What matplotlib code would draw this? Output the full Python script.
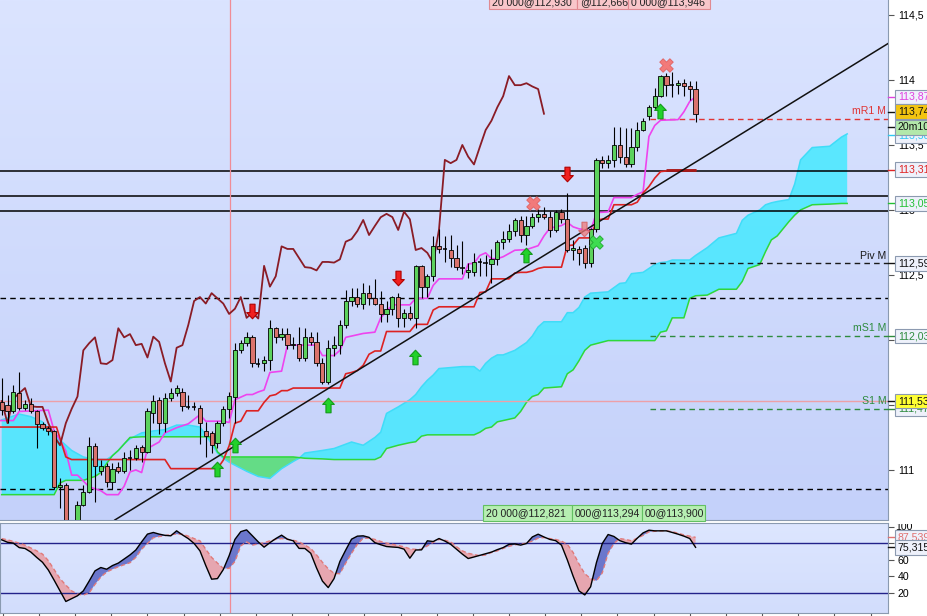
import matplotlib
matplotlib.use("Agg")
import matplotlib.pyplot as plt
import numpy as np
from matplotlib.colors import LinearSegmentedColormap
from matplotlib.patches import Rectangle
from matplotlib.path import Path
from matplotlib.ticker import FixedLocator, FuncFormatter, NullLocator
from matplotlib.transforms import blended_transform_factory

plt.rcParams["font.family"] = ["Liberation Sans", "DejaVu Sans"]

W, H = 927, 616
FS = 7.6

# 20 minute candles, index 0..119
opens = [111.52, 111.50, 111.45, 111.59, 111.475, 111.51, 111.45, 111.35, 111.32, 111.30,
         110.87, 110.885, 110.60, 110.55, 110.73, 110.83, 111.185, 110.99, 111.03, 110.91,
         111.02, 110.99, 111.09, 111.09, 111.18, 111.14, 111.44, 111.54, 111.36, 111.555,
         111.59, 111.60, 111.485, 111.485, 111.48, 111.30, 111.285, 111.21, 111.36, 111.47,
         111.565, 111.92, 111.98, 112.02, 111.82, 111.82, 111.845, 112.09, 112.02, 112.045,
         111.96, 111.97, 111.865, 112.025, 111.985, 111.82, 111.68, 111.94, 111.96, 112.115,
         112.30, 112.33, 112.28, 112.36, 112.32, 112.28, 112.20, 112.24, 112.33, 112.17,
         112.21, 112.165, 112.57, 112.41, 112.49, 112.72, 112.70, 112.69, 112.63, 112.56,
         112.52, 112.525, 112.60, 112.60, 112.585, 112.62, 112.756, 112.776, 112.838, 112.923,
         112.807, 112.877, 112.944, 112.97, 112.944, 112.846, 112.987, 112.928, 112.692, 112.70,
         112.708, 112.59, 112.85, 113.385, 113.36, 113.385, 113.50, 113.41, 113.35, 113.485,
         113.615, 113.72, 113.79, 113.875, 114.03, 113.96, 113.96, 113.975, 113.95, 113.93]
highs = [111.71, 111.58, 111.65, 111.75, 111.54, 111.55, 111.46, 111.37, 111.34, 111.31,
         110.94, 110.90, 110.61, 110.76, 110.885, 111.25, 111.21, 111.08, 111.05, 111.05,
         111.06, 111.14, 111.155, 111.19, 111.19, 111.48, 111.58, 111.56, 111.59, 111.63,
         111.65, 111.63, 111.58, 111.52, 111.50, 111.37, 111.30, 111.38, 111.49, 111.60,
         111.975, 112.00, 112.06, 112.04, 111.86, 111.88, 112.155, 112.10, 112.09, 112.09,
         112.02, 112.10, 112.09, 112.06, 112.06, 111.86, 112.00, 112.03, 112.155, 112.385,
         112.40, 112.40, 112.44, 112.42, 112.47, 112.38, 112.30, 112.34, 112.36, 112.24,
         112.26, 112.58, 112.58, 112.51, 112.80, 112.85, 112.80, 112.81, 112.73, 112.76,
         112.59, 112.67, 112.63, 112.65, 112.70, 112.77, 112.84, 112.89, 112.94, 112.95,
         112.95, 112.975, 113.01, 113.025, 112.99, 113.00, 113.01, 113.13, 112.77, 112.72,
         112.73, 112.86, 113.40, 113.415, 113.42, 113.64, 113.64, 113.63, 113.63, 113.68,
         113.71, 113.81, 113.94, 114.04, 114.05, 114.06, 114.00, 114.01, 113.99, 113.99]
lows = [111.42, 111.36, 111.44, 111.46, 111.46, 111.44, 111.17, 111.31, 111.27, 110.85,
        110.71, 110.54, 110.37, 110.50, 110.72, 110.82, 110.75, 110.96, 110.87, 110.85,
        110.98, 110.98, 111.00, 111.08, 111.06, 111.13, 111.36, 111.28, 111.29, 111.53,
        111.57, 111.45, 111.47, 111.46, 111.20, 111.10, 111.13, 111.17, 111.34, 111.40,
        111.36, 111.90, 111.95, 111.795, 111.795, 111.76, 111.77, 111.98, 112.00, 111.93,
        111.93, 111.84, 111.84, 111.96, 111.80, 111.66, 111.66, 111.88, 111.89, 112.09,
        112.26, 112.25, 112.24, 112.27, 112.27, 112.14, 112.14, 112.19, 112.10, 112.10,
        112.15, 112.09, 112.32, 112.33, 112.45, 112.67, 112.60, 112.56, 112.54, 112.51,
        112.48, 112.49, 112.49, 112.49, 112.44, 112.58, 112.70, 112.75, 112.80, 112.75,
        112.73, 112.86, 112.91, 112.93, 112.795, 112.83, 112.90, 112.68, 112.615, 112.58,
        112.55, 112.56, 112.83, 113.32, 113.32, 113.33, 113.36, 113.33, 113.33, 113.45,
        113.61, 113.69, 113.77, 113.87, 113.88, 113.87, 113.89, 113.88, 113.845, 113.68]
closes = [111.46, 111.45, 111.60, 111.475, 111.51, 111.45, 111.35, 111.32, 111.30, 110.87,
          110.885, 110.60, 110.52, 110.73, 110.83, 111.185, 111.03, 111.03, 110.91, 111.01,
          110.99, 111.09, 111.09, 111.17, 111.14, 111.45, 111.53, 111.36, 111.55, 111.59,
          111.63, 111.49, 111.485, 111.485, 111.36, 111.26, 111.19, 111.36, 111.47, 111.565,
          111.92, 111.975, 112.02, 111.82, 111.815, 111.845, 112.09, 112.02, 112.045, 111.96,
          111.97, 111.865, 112.025, 111.985, 111.82, 111.68, 111.94, 111.96, 112.115, 112.30,
          112.33, 112.28, 112.36, 112.32, 112.28, 112.20, 112.24, 112.33, 112.17, 112.21,
          112.165, 112.57, 112.41, 112.49, 112.72, 112.70, 112.70, 112.63, 112.56, 112.555,
          112.535, 112.60, 112.60, 112.595, 112.62, 112.756, 112.776, 112.838, 112.923, 112.807,
          112.877, 112.944, 112.97, 112.945, 112.846, 112.987, 112.928, 112.692, 112.707, 112.67,
          112.592, 112.85, 113.385, 113.36, 113.385, 113.50, 113.41, 113.35, 113.485, 113.615,
          113.687, 113.79, 113.875, 114.03, 113.96, 113.96, 113.975, 113.95, 113.93, 113.74]

CHIKOU_SHIFT = 26

# tenkan-sen (magenta), kijun-sen (red): points
tenkan_x = [-0.3, 2, 3, 8, 9, 10, 11, 12, 13, 14, 15, 16, 17, 18, 20, 21, 22, 23, 24, 25,
            27, 28, 29, 30, 32, 33, 34, 35, 38, 39, 40, 41, 42, 43, 44, 45, 46, 48, 49, 54,
            55, 57, 58, 59, 60, 62, 64, 65, 66, 67, 70, 71, 73, 74, 75, 79, 80, 81, 82, 83,
            84, 85, 86, 87, 88, 90, 91, 92, 93, 94, 96, 97, 98, 99, 101, 102, 104, 105, 108, 109,
            110, 111, 112, 113, 116, 117, 118, 119]
tenkan = [111.38, 111.38, 111.45, 111.46, 111.30, 111.23, 111.145, 110.96, 110.96, 110.915,
          110.87, 110.855, 110.84, 110.81, 110.81, 110.875, 110.985, 111.0, 110.98, 111.165,
          111.215, 111.285, 111.305, 111.325, 111.355, 111.39, 111.425, 111.375, 111.375, 111.365,
          111.54, 111.56, 111.58, 111.58, 111.60, 111.615, 111.75, 111.76, 111.96, 111.96,
          111.88, 111.88, 111.92, 112.02, 112.03, 112.05, 112.06, 112.17, 112.22, 112.27,
          112.27, 112.32, 112.32, 112.42, 112.47, 112.47, 112.585, 112.59, 112.65, 112.67,
          112.625, 112.625, 112.64, 112.665, 112.69, 112.695, 112.71, 112.725, 112.80, 112.86,
          112.88, 112.905, 112.87, 112.855, 112.84, 112.98, 112.985, 113.095, 113.095, 113.12,
          113.14, 113.565, 113.65, 113.69, 113.695, 113.755, 113.835, 113.87]
kijun_x = [-0.3, 9.4, 11, 12, 28, 29, 37, 38, 39, 40, 41, 42, 44, 45, 46, 47, 48, 49, 50, 58,
           59, 60, 61, 62, 63, 64, 65, 66, 70, 71, 73, 74, 75, 81, 82, 83, 84, 87, 88, 89,
           90, 91, 92, 93, 96, 97, 98, 99, 101, 102, 103, 104, 105, 108, 109, 110, 111, 112, 113, 114,
           115, 119]
kijun = [111.33, 111.33, 111.10, 111.08, 111.08, 111.01, 111.01, 111.075, 111.185, 111.36,
         111.375, 111.455, 111.455, 111.52, 111.57, 111.58, 111.61, 111.61, 111.63, 111.63,
         111.74, 111.75, 111.765, 111.805, 111.89, 111.915, 111.915, 112.065, 112.065, 112.12,
         112.12, 112.23, 112.255, 112.255, 112.365, 112.37, 112.47, 112.47, 112.515, 112.52,
         112.52, 112.53, 112.55, 112.56, 112.56, 112.725, 112.73, 112.785, 112.785, 112.92,
         112.93, 112.93, 113.04, 113.04, 113.06, 113.13, 113.18, 113.245, 113.295, 113.30,
         113.305, 113.305]
kijun_flat = (114, 119, 113.31)

# cloud, senkou span A (cyan) and B (green), 26 bars ahead
cloud_x = [0, 3, 5, 7, 9, 10, 11, 12, 14, 16, 17, 18, 19, 20, 21, 22, 24, 26, 28, 30,
           32, 34, 35, 36, 37, 38, 39, 42, 44, 46, 48, 50, 51, 52, 55, 57, 60, 62, 64, 65,
           66, 68, 70, 71, 72, 73, 74, 75, 79, 81, 82, 83, 84, 85, 86, 88, 89, 90, 91, 92,
           93, 96, 97, 98, 99, 100, 101, 104, 106, 107, 108, 110, 112, 113, 114, 115, 117, 118, 119, 121,
           123, 126, 127, 128, 130, 131, 132, 133, 135, 136, 137, 139, 142, 144, 145]
span_a = [111.385, 111.43, 111.41, 111.37, 111.27, 111.23, 111.19, 111.15, 111.10, 111.08,
          111.08, 111.08, 111.11, 111.15, 111.20, 111.24, 111.285, 111.30, 111.31, 111.345,
          111.345, 111.33, 111.27, 111.20, 111.13, 111.09, 111.06, 110.99, 110.95, 110.935,
          111.01, 111.065, 111.09, 111.13, 111.15, 111.165, 111.215, 111.19, 111.25, 111.29,
          111.435, 111.485, 111.54, 111.58, 111.64, 111.69, 111.73, 111.78, 111.795, 111.795,
          111.76, 111.82, 111.86, 111.885, 111.885, 111.92, 111.95, 111.98, 112.03, 112.10,
          112.14, 112.14, 112.21, 112.21, 112.25, 112.33, 112.36, 112.37, 112.435, 112.44,
          112.51, 112.52, 112.58, 112.595, 112.60, 112.615, 112.615, 112.615, 112.65, 112.71,
          112.785, 112.82, 112.92, 112.96, 113.0, 113.04, 113.055, 113.065, 113.08, 113.20,
          113.385, 113.48, 113.49, 113.56, 113.585]
span_b = [110.81, 110.81, 110.81, 110.81, 110.81, 110.90, 110.92, 110.92, 110.92, 110.95,
          110.98, 111.05, 111.11, 111.15, 111.20, 111.25, 111.255, 111.255, 111.255, 111.255,
          111.255, 111.255, 111.255, 111.255, 111.14, 111.10, 111.10, 111.10, 111.10, 111.10,
          111.10, 111.10, 111.095, 111.09, 111.085, 111.08, 111.08, 111.08, 111.08, 111.10,
          111.165, 111.19, 111.21, 111.217, 111.26, 111.27, 111.27, 111.27, 111.27, 111.27,
          111.29, 111.32, 111.33, 111.37, 111.38, 111.40, 111.45, 111.52, 111.565, 111.58,
          111.63, 111.64, 111.74, 111.77, 111.84, 111.92, 111.96, 111.995, 111.995, 111.995,
          111.995, 111.995, 111.995, 112.06, 112.07, 112.17, 112.17, 112.32, 112.34, 112.345,
          112.39, 112.39, 112.45, 112.55, 112.58, 112.68, 112.77, 112.80, 112.91, 112.96,
          113.0, 113.04, 113.045, 113.05, 113.05]

# trend line anchors (bar index, price)
trend_x = [19.4, 152.0]
trend_y = [110.615, 114.28]

solid_levels = [113.30, 113.11, 112.99]
dashed_levels = [112.32, 110.85]
pivot_start = 111.2
pivot_levels = [113.70, 112.59, 112.03, 111.47]
pivot_names = ["mR1 M", "Piv M", "mS1 M", "S1 M"]
pivot_colors = ["#e03434", "#1a1a1a", "#2e8b3e", "#2e8b3e"]
cross_x = 39.2
cross_y = 111.53

# signals
buy_x = [36.9, 40.0, 56.0, 70.9, 90.0, 112.9]
buy_y = [111.01, 111.19, 111.50, 111.87, 112.65, 113.76]
sell_x = [43.0, 68.0, 96.9]
sell_y = [112.22, 112.48, 113.28]
ghost_sell_x = [99.9]
ghost_sell_y = [112.855]
exit_red_x = [91.1, 114.0]
exit_red_y = [113.055, 114.115]
exit_green_x = [102.0]
exit_green_y = [112.75]

# stochastic %K and %D, one value per candle
stoch_k = [84.5, 81.5, 80.4, 75, 73.9, 69.5, 63, 57, 47.5, 35,
           22, 9, 12.5, 16, 22, 34, 46.5, 50.6, 48.5, 53,
           56, 61, 66, 72, 82, 91.5, 93.5, 91.5, 90, 89.4,
           95.5, 90.5, 86, 80, 71, 53, 36.3, 37, 48, 65,
           85, 94.5, 96.7, 89.4, 82, 75.5, 81, 86, 90.2, 85.3,
           83.3, 74, 73.9, 68, 50, 34, 26, 37, 58, 72,
           85.3, 89, 89.4, 87.5, 81, 78.5, 76.3, 75.7, 75.2, 73.1,
           62, 72, 72.2, 83.3, 82.4, 86.1, 83, 79, 73, 67,
           61.6, 63.5, 65.5, 67.5, 69.5, 72.5, 75, 79, 79.5, 78,
           80, 88, 91.4, 88, 85, 83.5, 78, 60, 40, 22,
           17, 27, 56.7, 80, 91, 88.6, 83.5, 81, 79.2, 86.5,
           93, 96.3, 95.5, 95.5, 95.5, 93.5, 91.4, 89, 86.1, 75.315]
stoch_d = [86, 84.5, 82.5, 80.5, 78, 74.5, 71, 67, 59, 48,
           37, 29, 22, 18, 16.8, 19.5, 30, 39, 45, 48.5,
           51.5, 54, 56.5, 63, 73, 80, 87, 88.5, 89.6, 91,
           91.4, 91.4, 89, 86, 83.3, 73, 63, 56, 49.5, 49.5,
           58, 77, 82, 78, 79.5, 81, 83.3, 85, 86, 85,
           84, 82, 78, 74, 66, 57, 49, 43.5, 43, 56,
           68, 79, 86.5, 86.5, 85, 82.5, 80.5, 79, 77.5, 76,
           73.5, 72.8, 73, 77, 81.5, 85, 84, 82, 76, 71,
           68, 66.5, 65, 66, 69, 71, 74, 76.5, 78.5, 79,
           80.5, 83, 86.5, 87.3, 86, 85, 83, 79, 69, 55,
           43, 37, 34.3, 44, 68, 80, 86, 85, 83.3, 86.5,
           90, 94.3, 95, 95.5, 95.5, 94.5, 92.6, 90.5, 89, 87.539]
stoch_levels = [80, 20]
stoch_ticks = [20, 40, 60, 80, 100]


def comma(v, _pos=None):
    return f"{v:g}".replace(".", ",")


def gradient_bg(ax, top, bottom):
    cmap = LinearSegmentedColormap.from_list("bg", [bottom, top])
    grad = np.linspace(0, 1, 256).reshape(-1, 1)
    ax.imshow(grad, extent=(0, 1, 0, 1), transform=ax.transAxes, origin="lower",
              cmap=cmap, aspect="auto", zorder=-10)


def flag(ax, y, text, color, face, edge="#8c9ab0", z=7):
    tr = blended_transform_factory(ax.transAxes, ax.transData)
    ax.plot([1.0, 1.008], [y, y], color=color, lw=1, transform=tr, clip_on=False, zorder=z)
    ax.text(1.011, y, text, transform=tr, ha="left", va="center", fontsize=FS, color=color,
            clip_on=False, zorder=z, bbox=dict(boxstyle="square,pad=0.22", fc=face, ec=edge, lw=0.8))


def order_box(fig, x0, x1, y0, y1, ty, text, fc, ec):
    rect = Rectangle((x0 / W, 1 - y1 / H), (x1 - x0) / W, (y1 - y0) / H,
                     transform=fig.transFigure, fc=fc, ec=ec, lw=0.8, zorder=8)
    fig.add_artist(rect)
    t = fig.text((x0 + 3) / W, 1 - ty / H, text, ha="left", va="center", fontsize=FS,
                 color="#222222", zorder=9)
    t.set_clip_path(rect)


def arrow_path(up=True):
    s = 1 if up else -1
    verts = [(0, s), (0.8, 0.15 * s), (0.35, 0.15 * s), (0.35, -s), (-0.35, -s),
             (-0.35, 0.15 * s), (-0.8, 0.15 * s), (0, s)]
    return Path(verts, closed=True)


fig = plt.figure(figsize=(W / 100, H / 100), dpi=100, facecolor="white")
ax = fig.add_axes([0, 1 - 520 / H, 888 / W, 520 / H])
ax2 = fig.add_axes([0, 1 - 613 / H, 888 / W, 90 / H], sharex=ax)
gradient_bg(ax, "#dbe4ff", "#c4d1fa")
gradient_bg(ax2, "#dde6ff", "#d2ddfc")

idx = np.arange(len(closes))
o, hi, lo, c = map(np.array, (opens, highs, lows, closes))

# cloud
cx, sa, sb = np.array(cloud_x), np.array(span_a), np.array(span_b)
ax.fill_between(cx, sa, sb, where=sa >= sb, interpolate=True, color="#3ceaff", alpha=0.8, lw=0, zorder=1)
ax.fill_between(cx, sa, sb, where=sa < sb, interpolate=True, color="#44e060", alpha=0.75, lw=0, zorder=1)
ax.plot(cx, sa, color="#40dcf8", lw=1.1, zorder=2)
ax.plot(cx, sb, color="#2ed83a", lw=1.1, zorder=2)

# horizontal levels
for lv in solid_levels:
    ax.axhline(lv, color="black", lw=1.1, zorder=2)
for lv in dashed_levels:
    ax.axhline(lv, color="black", lw=1, ls=(0, (4, 3)), zorder=2)
tr_ax = blended_transform_factory(ax.transAxes, ax.transData)
for lv, name, col in zip(pivot_levels, pivot_names, pivot_colors):
    ax.hlines(lv, pivot_start, 152, color=col, lw=1, ls=(0, (4, 3)), zorder=2)
    ax.text(0.998, lv + 0.02, name, transform=tr_ax, ha="right", va="bottom",
            color=col, fontsize=FS, zorder=6)
ax.axhline(cross_y, color="#eda0a8", lw=1, zorder=2)
ax.axvline(cross_x, color="#f08c96", lw=0.9, zorder=2)
ax2.axvline(cross_x, color="#f08c96", lw=0.9, zorder=2)

# ichimoku lines
ax.plot(tenkan_x, tenkan, color="#ee44ee", lw=1.2, zorder=3)
ax.plot(kijun_x, kijun, color="#dd2222", lw=1.2, zorder=3)
ax.hlines(kijun_flat[2], kijun_flat[0], kijun_flat[1], color="#a81818", lw=2, zorder=3)
ax.plot(idx[CHIKOU_SHIFT:] - CHIKOU_SHIFT, c[CHIKOU_SHIFT:], color="#8a1c26", lw=1.3, zorder=3)
ax.plot(trend_x, trend_y, color="#111111", lw=1.1, zorder=3.5)

# candles
ax.vlines(idx, lo, hi, color="black", lw=0.8, zorder=4)
b_lo, b_hi = np.minimum(o, c), np.maximum(o, c)
doji = (b_hi - b_lo) < 0.006
body = ~doji
cols = np.where(c >= o, "#5cd25c", "#da736c")
ax.bar(idx[body], (b_hi - b_lo)[body], bottom=b_lo[body], width=0.72, color=cols[body],
       edgecolor="black", lw=0.6, zorder=5)
ax.hlines(c[doji], idx[doji] - 0.38, idx[doji] + 0.38, color="black", lw=1.1, zorder=5)

# signals
ax.scatter(buy_x, buy_y, marker=arrow_path(True), s=110, c="#22d22a", edgecolors="#139a1a", lw=0.8, zorder=6)
ax.scatter(sell_x, sell_y, marker=arrow_path(False), s=110, c="#f02020", edgecolors="#b00000", lw=0.8, zorder=6)
ax.scatter(ghost_sell_x, ghost_sell_y, marker=arrow_path(False), s=110, c="#f07878", edgecolors="#d05a5a",
           lw=0.8, alpha=0.75, zorder=6)
ax.scatter(exit_red_x, exit_red_y, marker="X", s=95, c="#f27a7a", edgecolors="#e06060", lw=0.6, zorder=6)
ax.scatter(exit_green_x, exit_green_y, marker="X", s=95, c="#3edc50", edgecolors="#1fa82e", lw=0.6, zorder=6)

# axes styling, price panel
ax.set_xlim(-0.29, 152.0)
ax.set_ylim(110.615, 114.615)
ax.yaxis.tick_right()
ax.yaxis.set_major_locator(FixedLocator([111, 111.5, 112, 112.5, 113, 113.5, 114, 114.5]))
ax.yaxis.set_major_formatter(FuncFormatter(comma))
ax.tick_params(axis="y", direction="out", length=4, width=0.8, color="#555555", labelsize=FS, pad=3)
ax.tick_params(axis="x", bottom=False, labelbottom=False)
ax.xaxis.set_major_locator(NullLocator())
for side in ("top", "left"):
    ax.spines[side].set_visible(False)
for side in ("right", "bottom"):
    ax.spines[side].set_color("#8a9ab0")

flag(ax, 113.87, "113,87", "#e040e0", "#eef1fb")
flag(ax, 113.575, "113,58", "#30c8f0", "#eef1fb", z=6.5)
flag(ax, 113.635, "20m10", "#111111", "#b2e8aa")
flag(ax, 113.755, "113,74", "#111111", "#f2c410")
flag(ax, 113.31, "113,31", "#e02424", "#eef1fb")
flag(ax, 113.05, "113,05", "#22c033", "#eef1fb")
flag(ax, 112.59, "112,59", "#111111", "#eef1fb")
flag(ax, 112.03, "112,03", "#2e8b3e", "#eef1fb")
flag(ax, 111.47, "111,47", "#2e8b3e", "#eef1fb", z=6.5)
flag(ax, 111.53, "111,53", "#111111", "#ffff33")

# stochastic panel
k, d = np.array(stoch_k), np.array(stoch_d)
ax2.fill_between(idx, k, d, where=k >= d, interpolate=True, color="#5864c4", alpha=0.85, lw=0, zorder=2)
ax2.fill_between(idx, k, d, where=k < d, interpolate=True, color="#e8a0a8", alpha=0.9, lw=0, zorder=2)
ax2.plot(idx, d, color="#e07a7a", lw=1, ls=(0, (3, 2)), zorder=3)
ax2.plot(idx, k, color="black", lw=1, zorder=3)
for lv in stoch_levels:
    ax2.axhline(lv, color="#22228a", lw=1, zorder=2.5)
ax2.set_ylim(-5.1, 105.1)
ax2.yaxis.tick_right()
ax2.yaxis.set_major_locator(FixedLocator(stoch_ticks))
ax2.yaxis.set_major_formatter(FuncFormatter(lambda v, _p: "" if v >= 100 else f"{v:g}"))
ax2.tick_params(axis="y", direction="out", length=4, width=0.8, color="#555555", labelsize=FS, pad=3)
ax2.xaxis.set_major_locator(FixedLocator(np.arange(0.2, 152, 6.2)))
ax2.tick_params(axis="x", direction="out", length=4, width=0.8, color="#555555", labelbottom=False)
for side in ax2.spines:
    ax2.spines[side].set_color("#8a9ab0")
ax2.set_xlim(-0.29, 152.0)

# the top label of the lower panel is partly hidden under the price panel
tr2 = blended_transform_factory(ax2.transAxes, ax2.transData)
top_lbl = ax2.text(1.0 + 7 / 888, stoch_ticks[-1], f"{stoch_ticks[-1]}", transform=tr2, ha="left",
                   va="center", fontsize=FS, color="black", clip_on=True)
top_lbl.set_clip_path(Rectangle((0, 0), 1, 1 - 524 / H, transform=fig.transFigure))

flag(ax2, 87.54, "87,539", "#e07070", "#eef1fb")
flag(ax2, 75.315, "75,315", "#111111", "#eef1fb")

# order tags
red_fc, red_ec = "#f8c6ca", "#e08a92"
order_box(fig, 489, 577, -8, 9, 2, "20 000@112,930", red_fc, red_ec)
order_box(fig, 577, 628, -8, 9, 2, "@112,666", red_fc, red_ec)
order_box(fig, 628, 710, -8, 9, 2, "0 000@113,946", red_fc, red_ec)
grn_fc, grn_ec = "#b6eeb2", "#62c062"
order_box(fig, 483, 572, 505, 521, 513, "20 000@112,821", grn_fc, grn_ec)
order_box(fig, 572, 642, 505, 521, 513, "000@113,294", grn_fc, grn_ec)
order_box(fig, 642, 705, 505, 521, 513, "00@113,900", grn_fc, grn_ec)

fig.savefig("out.png", dpi=100, facecolor=fig.get_facecolor())
